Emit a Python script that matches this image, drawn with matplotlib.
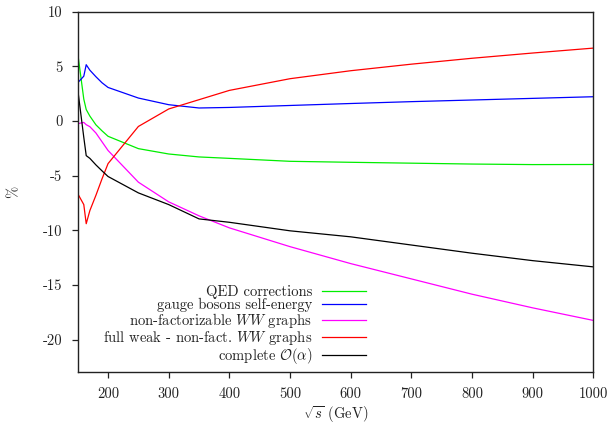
import matplotlib
matplotlib.use("Agg")
import matplotlib.pyplot as plt

plt.rcParams["font.family"] = ["cmr10", "DejaVu Serif"]
plt.rcParams["mathtext.fontset"] = "cm"
plt.rcParams["axes.unicode_minus"] = False
plt.rcParams["axes.formatter.use_mathtext"] = False

# centre-of-mass energy sqrt(s) in GeV
energy = [150, 160, 164, 170, 180, 190, 200, 250, 300, 350, 400,
          500, 600, 700, 800, 900, 1000]

# relative corrections in percent
qed = [6.2, 2.0, 1.05, 0.45, -0.35, -0.9, -1.4, -2.53, -3.02, -3.29, -3.42,
       -3.69, -3.78, -3.86, -3.94, -3.99, -3.98]
gauge_self_energy = [3.5, 4.1, 5.15, 4.65, 4.05, 3.5, 3.07, 2.1, 1.49, 1.19, 1.24,
                     1.42, 1.6, 1.77, 1.92, 2.07, 2.22]
non_factorizable = [-0.25, -0.13, -0.34, -0.52, -1.1, -1.9, -2.7, -5.6, -7.4, -8.68, -9.78,
                    -11.5, -13.05, -14.45, -15.85, -17.1, -18.25]
full_weak = [-6.65, -7.65, -9.4, -8.2, -6.8, -5.3, -3.9, -0.5, 1.1, 1.95, 2.8,
             3.87, 4.6, 5.2, 5.74, 6.22, 6.67]
complete = [2.9, -1.5, -3.17, -3.42, -4.02, -4.56, -5.08, -6.58, -7.65, -8.96, -9.27,
            -10.05, -10.6, -11.35, -12.1, -12.78, -13.35]

labels = ["QED corrections",
          "gauge bosons self-energy",
          r"non-factorizable $WW$ graphs",
          r"full weak - non-fact. $WW$ graphs",
          r"complete $\mathcal{O}(\alpha)$"]
series = [qed, gauge_self_energy, non_factorizable, full_weak, complete]
colors = ["#00ee00", "#0000ff", "#ff00ff", "#ff0000", "#000000"]

x_ticks = [200, 300, 400, 500, 600, 700, 800, 900, 1000]
y_ticks = [10, 5, 0, -5, -10, -15, -20]

fig = plt.figure(figsize=(6.12, 4.26), dpi=100)
ax = fig.add_axes([0.127, 0.126, 0.8425, 0.8465])

for vals, lab, col in zip(series, labels, colors):
    ax.plot(energy, vals, color=col, lw=0.9, label=lab)

ax.set_xlim(150, 1000)
ax.set_ylim(-23, 10)
ax.set_xticks(x_ticks)
ax.set_xticklabels([str(v) for v in x_ticks])
ax.set_yticks(y_ticks)
ax.set_yticklabels([str(v) for v in y_ticks])
ax.tick_params(direction="out", length=4, width=0.9, labelsize=10.5,
               top=False, right=False, colors="#222222", pad=7)
for sp in ax.spines.values():
    sp.set_linewidth(1.0)
    sp.set_color("#222222")

ax.set_xlabel(r"$\sqrt{s}$ (GeV)", fontsize=10.5, color="#222222", labelpad=2)
ax.set_ylabel("%", fontsize=10.5, color="#222222", labelpad=16)

leg = ax.legend(loc="lower right", bbox_to_anchor=(0.559, 0.018),
                frameon=False, markerfirst=False, fontsize=10.5,
                handlelength=3.0, handletextpad=0.7, labelspacing=-0.07,
                borderpad=0, borderaxespad=0)
for t in leg.get_texts():
    t.set_color("#222222")

fig.savefig("out.png", dpi=100)
